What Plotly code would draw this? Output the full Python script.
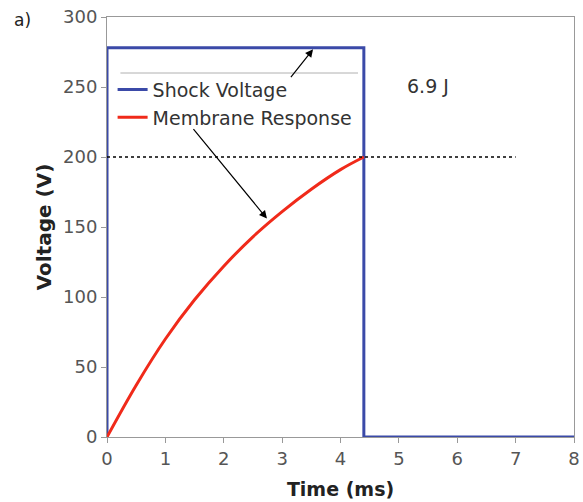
import plotly.graph_objects as go

# Data
shock_t = [0, 0, 4.4, 4.4, 8]
shock_v = [0, 278, 278, 0, 0]
mem_t = [0, 0.5, 1.0, 1.5, 2.0, 2.5, 3.0, 3.5, 4.0, 4.4]
mem_v = [0, 37, 70, 98, 122, 143, 161, 177, 191, 200]
x_ticks = [0, 1, 2, 3, 4, 5, 6, 7, 8]
y_ticks = [0, 50, 100, 150, 200, 250, 300]
threshold = 200
threshold_end = 7

FONT = "DejaVu Sans"

fig = go.Figure()
fig.add_trace(go.Scatter(x=shock_t, y=shock_v, mode="lines", name="Shock Voltage",
                         line=dict(color="#3b4aa8", width=3), cliponaxis=False))
fig.add_trace(go.Scatter(x=mem_t, y=mem_v, mode="lines", name="Membrane Response",
                         line=dict(color="#f02a1a", width=3, shape="spline"), cliponaxis=False))

fig.add_shape(type="line", x0=0, x1=threshold_end, y0=threshold, y1=threshold,
              xref="x", yref="y", line=dict(color="black", width=1.5, dash="dot"))
# legend top rule
fig.add_shape(type="line", x0=0.23, x1=4.3, y0=260, y1=260, xref="x", yref="y",
              line=dict(color="#b0b0b0", width=1))

fig.add_annotation(x=3.53, y=277, ax=3.13, ay=256, xref="x", yref="y", axref="x", ayref="y",
                   text="", showarrow=True, arrowhead=2, arrowsize=1.3, arrowwidth=1.2,
                   arrowcolor="black")
fig.add_annotation(x=2.74, y=156, ax=1.46, ay=221, xref="x", yref="y", axref="x", ayref="y",
                   text="", showarrow=True, arrowhead=2, arrowsize=1.3, arrowwidth=1.2,
                   arrowcolor="black")
fig.add_annotation(x=5.5, y=251, xref="x", yref="y", text="6.9 J", showarrow=False,
                   font=dict(family=FONT, size=19, color="#333"))
fig.add_annotation(x=(22 - 107) / 467, y=(437 - 20) / 420, xref="paper", yref="paper",
                   text="a)", showarrow=False, xanchor="center", yanchor="middle",
                   font=dict(family=FONT, size=17, color="#222"))

fig.update_layout(
    width=583, height=502,
    margin=dict(l=107, r=9, t=17, b=65),
    paper_bgcolor="white", plot_bgcolor="white",
    font=dict(family=FONT, size=18, color="#555"),
    showlegend=True,
    legend=dict(x=0.012, y=0.872, xanchor="left", yanchor="top", bgcolor="rgba(0,0,0,0)",
                font=dict(family=FONT, size=19, color="#333"), itemwidth=30,
                tracegroupgap=0),
    xaxis=dict(range=[0, 8], tickvals=x_ticks, ticks="outside", ticklen=5, tickcolor="#999",
               showgrid=False, zeroline=False, showline=True, linecolor="#999", mirror=True,
               automargin=False,
               title=dict(text="<b>Time (ms)</b>", font=dict(family=FONT, size=19, color="#222"),
                          standoff=15)),
    yaxis=dict(range=[0, 300], tickvals=y_ticks, ticks="outside", ticklen=5, tickcolor="#999",
               showgrid=False, zeroline=False, showline=True, linecolor="#999", mirror=True,
               automargin=False,
               title=dict(text="<b>Voltage (V)</b>", font=dict(family=FONT, size=20, color="#222"),
                          standoff=6)),
)

fig.write_html("out.html")
